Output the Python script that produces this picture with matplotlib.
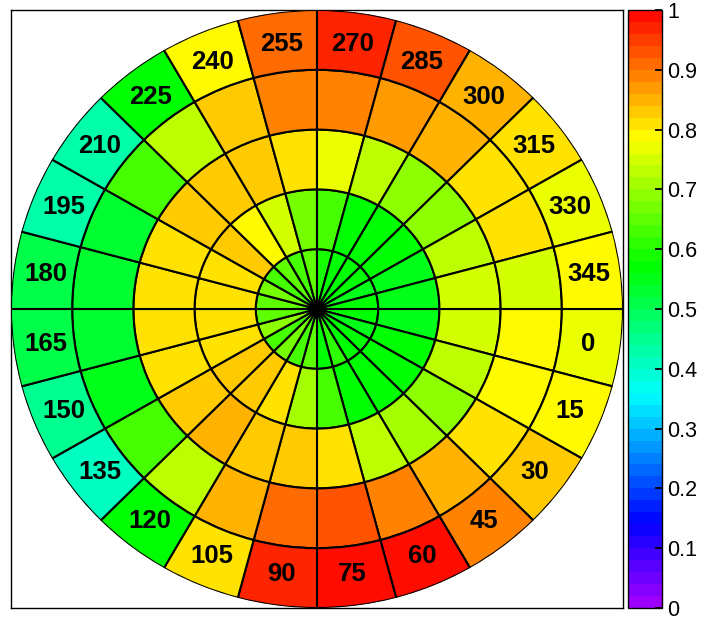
import colorsys
import numpy as np
import matplotlib
matplotlib.use("Agg")
import matplotlib.pyplot as plt
from matplotlib.colors import ListedColormap, Normalize
from matplotlib.cm import ScalarMappable

# sector start angles (deg, clockwise from east) and ring values, inner -> outer
angles = list(range(0, 360, 15))
ring_edges = [0.0, 0.2, 0.4, 0.6, 0.8, 1.0]

ring_1 = [0.56, 0.55, 0.58, 0.57, 0.60, 0.56, 0.65, 0.62, 0.66, 0.63, 0.68, 0.65,
          0.64, 0.66, 0.62, 0.65, 0.62, 0.65, 0.59, 0.57, 0.58, 0.56, 0.55, 0.57]
ring_2 = [0.55, 0.56, 0.56, 0.58, 0.57, 0.62, 0.70, 0.80, 0.83, 0.82, 0.81, 0.81,
          0.815, 0.80, 0.825, 0.785, 0.75, 0.67, 0.62, 0.57, 0.56, 0.56, 0.55, 0.545]
ring_3 = [0.75, 0.73, 0.68, 0.71, 0.72, 0.80, 0.82, 0.83, 0.84, 0.83, 0.81, 0.80,
          0.80, 0.81, 0.82, 0.82, 0.83, 0.80, 0.76, 0.72, 0.69, 0.69, 0.72, 0.75]
ring_4 = [0.785, 0.785, 0.80, 0.85, 0.88, 0.92, 0.91, 0.84, 0.73, 0.62, 0.54, 0.53,
          0.52, 0.53, 0.62, 0.73, 0.83, 0.89, 0.89, 0.87, 0.85, 0.81, 0.80, 0.74]
ring_5 = [0.76, 0.785, 0.825, 0.88, 0.99, 0.99, 0.96, 0.80, 0.56, 0.41, 0.44, 0.51,
          0.51, 0.43, 0.42, 0.56, 0.785, 0.91, 0.97, 0.93, 0.85, 0.80, 0.76, 0.785]
rings = [ring_1, ring_2, ring_3, ring_4, ring_5]

# 50-step rainbow palette, hue 280 (violet) -> 0 (red)
nsteps = 50
pal = [colorsys.hls_to_rgb(280 * (1 - (i + 0.5) / nsteps) / 360.0, 0.5, 1.0) for i in range(nsteps)]
cmap = ListedColormap(pal)
norm = Normalize(0, 1)

W, H = 705, 617
fig = plt.figure(figsize=(W / 100, H / 100), dpi=100)

box = [11 / W, (H - 608) / H, 612 / W, 598 / H]
frame = fig.add_axes(box)
frame.set_xticks([])
frame.set_yticks([])
for s in frame.spines.values():
    s.set_linewidth(1.0)
    s.set_color("black")

ax = fig.add_axes(box, projection="polar", facecolor="none")
ax.set_aspect("auto")
ax.set_theta_zero_location("E")
ax.set_theta_direction(-1)
ax.set_ylim(0, 1)
ax.grid(False)
ax.set_xticks([])
ax.set_yticks([])
ax.spines["polar"].set_visible(False)

theta = np.radians(np.array(angles) + 7.5)
width = np.radians(15)
for i, vals in enumerate(rings):
    ax.bar(theta, ring_edges[i + 1] - ring_edges[i], width=width, bottom=ring_edges[i],
           color=cmap(norm(np.array(vals))), edgecolor="black", linewidth=1.5, align="center")

for t, a in zip(theta, angles):
    ax.text(t, 0.895, str(a), ha="center", va="center", fontsize=18.5,
            fontweight="bold", family="Liberation Sans")

cax = fig.add_axes([628 / W, (H - 608) / H, 34 / W, 598 / H])
cb = fig.colorbar(ScalarMappable(norm=norm, cmap=cmap), cax=cax)
cb.set_ticks(np.arange(0, 1.01, 0.1))
cb.set_ticklabels(["0", "0.1", "0.2", "0.3", "0.4", "0.5", "0.6", "0.7", "0.8", "0.9", "1"])
cb.outline.set_linewidth(1.0)
cax.tick_params(direction="in", length=5, width=1.3, labelsize=15.5, pad=4)
for lab in cax.get_yticklabels():
    lab.set_family("Liberation Sans")

fig.savefig("out.png", dpi=100)
